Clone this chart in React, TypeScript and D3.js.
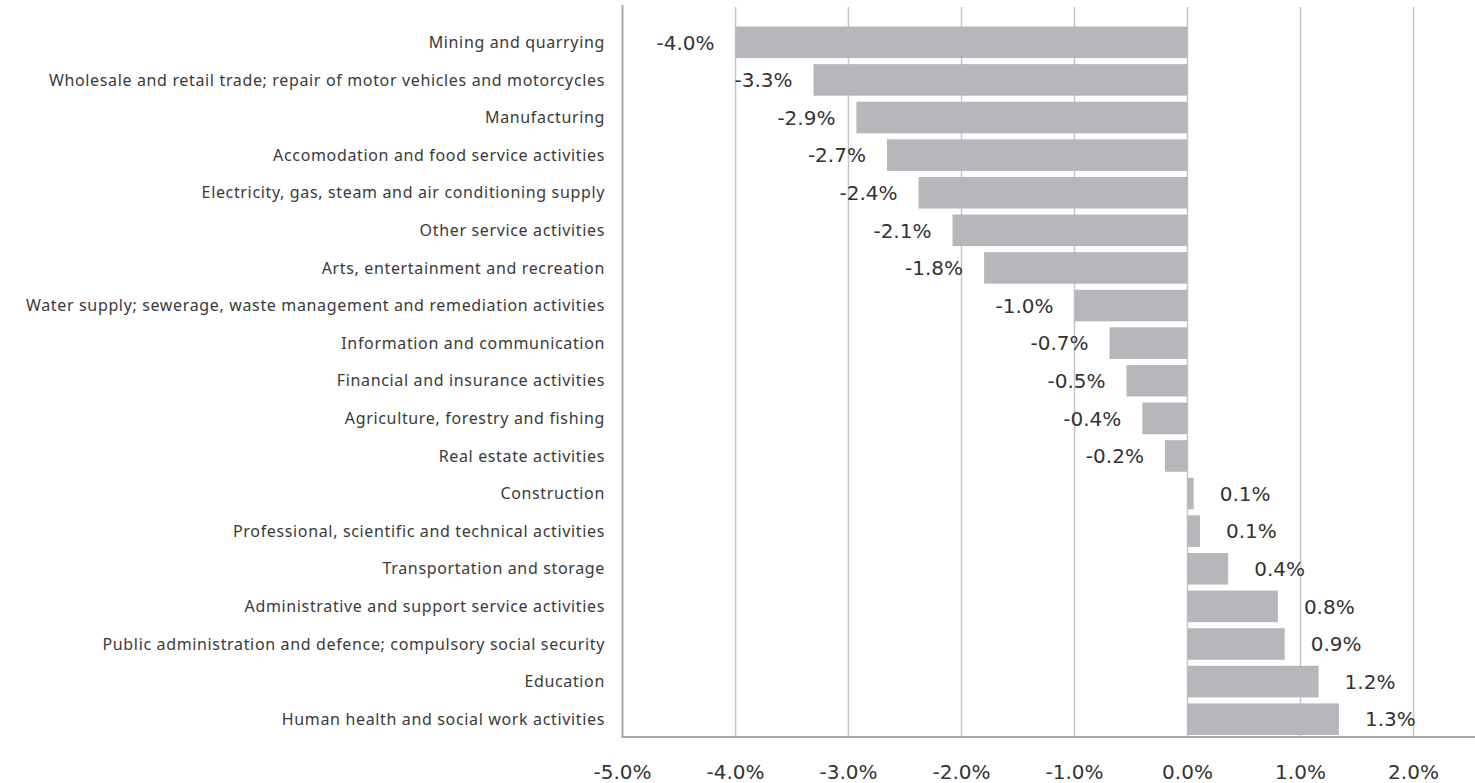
import React from "react";
import * as d3 from "d3";

const categories = [
  "Mining and quarrying",
  "Wholesale and retail trade; repair of motor vehicles and motorcycles",
  "Manufacturing",
  "Accomodation and food service activities",
  "Electricity, gas, steam and air conditioning supply",
  "Other service activities",
  "Arts, entertainment and recreation",
  "Water supply; sewerage, waste management and remediation activities",
  "Information and communication",
  "Financial and insurance activities",
  "Agriculture, forestry and fishing",
  "Real estate activities",
  "Construction",
  "Professional, scientific and technical activities",
  "Transportation and storage",
  "Administrative and support service activities",
  "Public administration and defence; compulsory social security",
  "Education",
  "Human health and social work activities",
];

const values = [
  -4.0, -3.31, -2.93, -2.66, -2.38, -2.08, -1.8, -1.0, -0.69, -0.54, -0.4, -0.2,
  0.055, 0.11, 0.36, 0.8, 0.86, 1.16, 1.34,
];

const xTicks = [-5, -4, -3, -2, -1, 0, 1, 2];

const W = 1475;
const H = 783;

const locale = d3.formatLocale({
  decimal: ".",
  thousands: ",",
  grouping: [3],
  currency: ["", ""],
  minus: "-",
});
const fmt = locale.format(".1f");

export default function App() {
  const x = d3.scaleLinear().domain([-5, 2]).range([622.5, 1413.5]);
  const y = d3
    .scaleBand<string>()
    .domain(categories)
    .range([23.5, 738])
    .paddingInner(0.16)
    .paddingOuter(0.08);
  const plotTop = 7;
  const plotBottom = 737;
  const labelFont = "'Noto Sans', 'DejaVu Sans', sans-serif";
  const valFont = "'DejaVu Sans', sans-serif";

  return (
    <svg
      width={W}
      height={H}
      style={{ position: "absolute", left: 0, top: 0, background: "#fff" }}
    >
      {xTicks
        .filter((t) => t !== -5)
        .map((t) => (
          <line
            key={"g" + t}
            x1={x(t)}
            x2={x(t)}
            y1={plotTop}
            y2={plotBottom}
            stroke="#c6c6c6"
            strokeWidth={1.5}
          />
        ))}
      {categories.map((c, i) => {
        const v = values[i];
        const y0 = y(c)!;
        const bh = y.bandwidth();
        const x0 = x(Math.min(0, v));
        const x1 = x(Math.max(0, v));
        const cy = y0 + bh / 2;
        return (
          <g key={c}>
            <rect x={x0} y={y0} width={x1 - x0} height={bh} fill="#b5b7ba" />
            <text
              x={605}
              y={cy}
              dy="0.35em"
              textAnchor="end"
              fontFamily={labelFont}
              fontSize={16}
              letterSpacing={0.65}
              fill="#3a3a3a"
            >
              {c}
            </text>
            <text
              x={v < 0 ? x(v) - 21 : x(v) + 26}
              y={cy}
              dy="0.36em"
              textAnchor={v < 0 ? "end" : "start"}
              fontFamily={valFont}
              fontSize={20}
              fill="#333"
            >
              {fmt(v) + "%"}
            </text>
          </g>
        );
      })}
      <line
        x1={x(-5)}
        x2={x(-5)}
        y1={5}
        y2={plotBottom + 1}
        stroke="#a9a9a9"
        strokeWidth={2}
      />
      <line
        x1={x(-5) - 1}
        x2={W}
        y1={plotBottom}
        y2={plotBottom}
        stroke="#a9a9a9"
        strokeWidth={2}
      />
      {xTicks.map((t) => (
        <text
          key={"t" + t}
          x={x(t)}
          y={779}
          textAnchor="middle"
          fontFamily={valFont}
          fontSize={20}
          fill="#333"
        >
          {fmt(t) + "%"}
        </text>
      ))}
    </svg>
  );
}
